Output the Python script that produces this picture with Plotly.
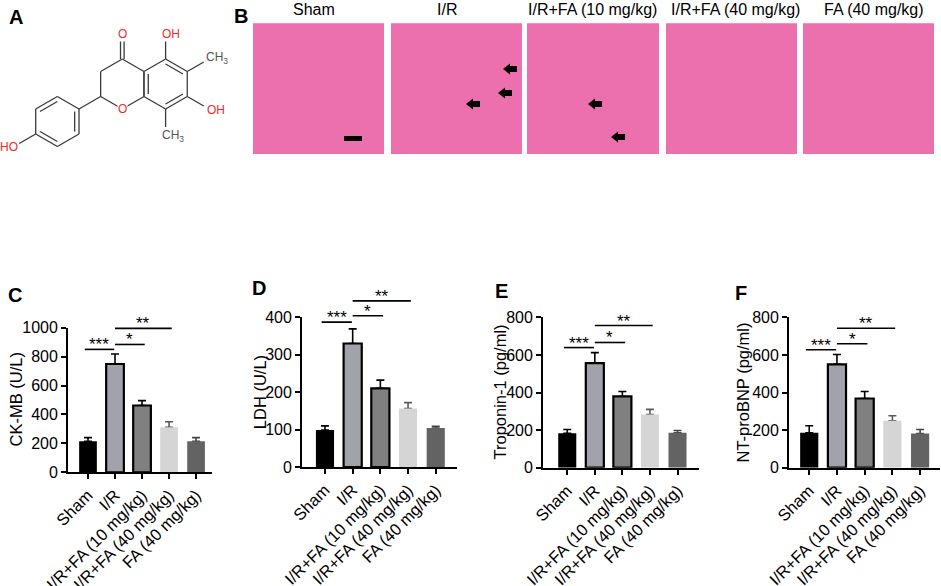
import math
import plotly.graph_objects as go

W, H = 941, 586
FONT = "Liberation Sans, Arial, sans-serif"

# ---- data ----------------------------------------------------------------
groups = ["Sham", "I/R", "I/R+FA (10 mg/kg)", "I/R+FA (40 mg/kg)", "FA (40 mg/kg)"]

ckmb_mean = [214, 749, 462, 312, 214]
ckmb_err = [26, 69, 34, 38, 26]
ldh_mean = [99, 330, 210, 156, 104]
ldh_err = [11, 39, 22, 16, 5]
trop_mean = [183, 556, 379, 283, 186]
trop_err = [20, 56, 26, 27, 12]
ntpro_mean = [186, 550, 368, 250, 182]
ntpro_err = [37, 52, 37, 26, 21]

# significance brackets (same comparisons in every panel)
sig_labels = ["***", "*", "**"]
sig_from = [-0.12, 1.0, 1.0]
sig_to = [0.97, 2.1, 3.1]
ckmb_sig_y = [850, 884, 995]
ldh_sig_y = [387, 404, 444]
trop_sig_y = [639, 666, 756]
ntpro_sig_y = [627, 659, 742]

he_titles = ["Sham", "I/R", "I/R+FA (10 mg/kg)", "I/R+FA (40 mg/kg)", "FA (40 mg/kg)"]

# ---- styling ---------------------------------------------------------------
bar_fill = ["#000000", "#a2a2ab", "#808080", "#d5d5d5", "#636363"]
bar_line = [0, 2.2, 2.2, 0, 0]
err_color = ["#000000", "#000000", "#000000", "#5a5a5a", "#444444"]
BW = 0.655


def px(x):
    return x / W


def py(y):
    return 1 - y / H


panels = [
    dict(label="C", title="CK-MB (U/L)", mean=ckmb_mean, err=ckmb_err, sig=ckmb_sig_y,
         ymax=1000, dtick=200, x0=68, x1=212, y0=472.3, y1=327.7, xr=[-0.74, 4.59],
         lab=(14.5, 295), tx=15.5),
    dict(label="D", title="LDH (U/L)", mean=ldh_mean, err=ldh_err, sig=ldh_sig_y,
         ymax=400, dtick=100, x0=302, x1=456.5, y0=467, y1=317.3, xr=[-0.83, 4.75],
         lab=(258.5, 288), tx=260),
    dict(label="E", title="Troponin-1 (pg/ml)", mean=trop_mean, err=trop_err, sig=trop_sig_y,
         ymax=800, dtick=200, x0=543, x1=699, y0=467.7, y1=317.3, xr=[-0.88, 4.78],
         lab=(501, 291), tx=499),
    dict(label="F", title="NT-proBNP (pg/ml)", mean=ntpro_mean, err=ntpro_err, sig=ntpro_sig_y,
         ymax=800, dtick=200, x0=789, x1=939.5, y0=467.7, y1=317.3, xr=[-0.73, 4.70],
         lab=(741, 293), tx=742),
]

fig = go.Figure()
shapes = []
annotations = []
layout_axes = {}

for i, p in enumerate(panels):
    s = "" if i == 0 else str(i + 1)
    for g, m, e, fc, lw, ec in zip(groups, p["mean"], p["err"], bar_fill, bar_line, err_color):
        # error bar first, then the bar on top so only the upper whisker shows
        fig.add_trace(go.Bar(
            x=[g], y=[m], width=BW, xaxis="x" + s, yaxis="y" + s,
            marker=dict(color="rgba(0,0,0,0)", line=dict(width=0)),
            error_y=dict(type="data", array=[e], arrayminus=[0], symmetric=False,
                         color=ec, thickness=1.6, width=4),
            showlegend=False, hoverinfo="skip"))
        fig.add_trace(go.Bar(
            x=[g], y=[m], width=BW, xaxis="x" + s, yaxis="y" + s,
            marker=dict(color=fc, line=dict(color="black", width=lw)),
            showlegend=False, hoverinfo="skip"))

    for lab, a, b, v in zip(sig_labels, sig_from, sig_to, p["sig"]):
        shapes.append(dict(type="line", xref="x" + s, yref="y" + s + " domain",
                           x0=a, x1=b, y0=v / p["ymax"], y1=v / p["ymax"],
                           line=dict(color="black", width=1.6)))
        annotations.append(dict(text=lab, xref="x" + s, yref="y" + s + " domain",
                                x=(a + b) / 2, y=v / p["ymax"], xanchor="center",
                                yanchor="bottom", yshift=-7, showarrow=False,
                                font=dict(size=17, color="black", family=FONT)))

    annotations.append(dict(text=p["title"], xref="paper", yref="paper",
                            x=px(p["tx"]), y=py((p["y0"] + p["y1"]) / 2), textangle=-90,
                            xanchor="center", yanchor="middle", showarrow=False,
                            font=dict(size=16.5, color="black", family=FONT)))
    annotations.append(dict(text="<b>%s</b>" % p["label"], xref="paper", yref="paper",
                            x=px(p["lab"][0]), y=py(p["lab"][1]), xanchor="center",
                            yanchor="middle", showarrow=False,
                            font=dict(size=20, color="black", family=FONT)))

    axstyle = dict(showline=True, linecolor="black", linewidth=1.8, ticks="outside",
                   ticklen=5, tickwidth=1.6, tickcolor="black", showgrid=False,
                   zeroline=False, fixedrange=True, automargin=False)
    layout_axes["xaxis" + s] = dict(
        axstyle, domain=[px(p["x0"]), px(p["x1"])], range=p["xr"], type="category",
        categoryorder="array", categoryarray=groups, tickangle=-45,
        tickfont=dict(size=16.5, color="black", family=FONT), anchor="y" + s)
    layout_axes["yaxis" + s] = dict(
        axstyle, domain=[py(p["y0"]), py(p["y1"])], range=[0, p["ymax"]],
        tick0=0, dtick=p["dtick"],
        tickfont=dict(size=16, color="black", family=FONT), anchor="x" + s)

# ---- panel B: H&E micrographs (placeholders) --------------------------------
he_x = [(253, 384), (391, 522), (527, 659), (666, 797), (803, 934)]
he_title_x = [313.7, 446.7, 592, 735, 873.7]
for (a, b), t, tx in zip(he_x, he_titles, he_title_x):
    shapes.append(dict(type="rect", xref="paper", yref="paper", x0=px(a), x1=px(b),
                       y0=py(154), y1=py(23.3), fillcolor="#ec6fae", line=dict(width=0),
                       layer="below"))
    annotations.append(dict(text=t, xref="paper", yref="paper", x=px(tx), y=py(9),
                            xanchor="center", yanchor="middle", showarrow=False,
                            font=dict(size=16, color="black", family=FONT)))

# scale bar
shapes.append(dict(type="rect", xref="paper", yref="paper", x0=px(344), x1=px(362),
                   y0=py(141), y1=py(136), fillcolor="black", line=dict(width=0)))

# black arrows pointing left (tip x, tip y)
arrow_tips = [(503, 69), (498, 93), (466, 104), (588, 104), (611, 137)]
for tx, ty in arrow_tips:
    pts = [(tx, ty), (tx + 7, ty - 5.5), (tx + 7, ty - 3), (tx + 14, ty - 3),
           (tx + 14, ty + 3), (tx + 7, ty + 3), (tx + 7, ty + 5.5)]
    path = "M " + " L ".join("%.5f,%.5f" % (px(x), py(y)) for x, y in pts) + " Z"
    shapes.append(dict(type="path", xref="paper", yref="paper", path=path,
                       fillcolor="black", line=dict(width=0)))

# ---- panel A: chemical structure --------------------------------------------
BOND = "#3a3a3a"
RED = "#f02a2a"
R = 25


def hexv(cx, cy):
    return [(cx + R * math.cos(math.radians(a)), cy - R * math.sin(math.radians(a)))
            for a in (90, 30, -30, -90, -150, 150)]


def bond(p, q, w=1.3):
    shapes.append(dict(type="line", xref="paper", yref="paper",
                       x0=px(p[0]), y0=py(p[1]), x1=px(q[0]), y1=py(q[1]),
                       line=dict(color=BOND, width=w)))


def ring(c, doubles):
    v = hexv(*c)
    for k in range(6):
        bond(v[k], v[(k + 1) % 6])
    for k in doubles:
        p, q = v[k], v[(k + 1) % 6]
        f = 0.2
        bond((p[0] + (c[0] - p[0]) * f, p[1] + (c[1] - p[1]) * f),
             (q[0] + (c[0] - q[0]) * f, q[1] + (c[1] - q[1]) * f))
    return v


pyr_c = (122.3, 84)
ringA_c = (pyr_c[0] + 2 * R * math.cos(math.radians(30)), 84)
pyr = hexv(*pyr_c)
ph_c = (pyr[4][0] - 2 * R * math.cos(math.radians(30)), pyr[4][1] + R)

ring(pyr_c, [])
va = ring(ringA_c, [0, 2, 4])
vp = ring(ph_c, [1, 3, 5])
bond(pyr[4], vp[1])

# C=O
c4 = pyr[0]
bond((c4[0] - 1.8, c4[1]), (c4[0] - 1.8, c4[1] - 19))
bond((c4[0] + 1.8, c4[1]), (c4[0] + 1.8, c4[1] - 19))
# substituents
bond(va[0], (va[0][0], va[0][1] - 19))
bond(va[1], (va[1][0] + 16.5, va[1][1] - 9.5))
bond(va[2], (va[2][0] + 16.5, va[2][1] + 9.5))
bond(va[3], (va[3][0], va[3][1] + 18))
bond(vp[4], (vp[4][0] - 16.5, vp[4][1] + 9.5))

atom_font = dict(size=12, family=FONT)
atoms = [
    ("O", c4[0], 33.5, "center", RED),
    ("O", pyr[3][0], pyr[3][1], "center", RED),
    ("OH", va[0][0] - 4.6, 33.5, "left", RED),
    ("CH<sub>3</sub>", 205, 58.5, "left", "#555555"),
    ("OH", 205.5, 110, "left", RED),
    ("CH<sub>3</sub>", va[3][0] - 4.3, 135.5, "left", "#555555"),
    ("HO", 18.5, 147, "right", RED),
]
for t, x, y, anc, col in atoms:
    annotations.append(dict(text=t, xref="paper", yref="paper", x=px(x), y=py(y),
                            xanchor=anc, yanchor="middle", showarrow=False,
                            bgcolor="white", borderpad=0,
                            font=dict(atom_font, color=col)))

for lab, (x, y) in (("A", (16, 16.5)), ("B", (241, 16))):
    annotations.append(dict(text="<b>%s</b>" % lab, xref="paper", yref="paper",
                            x=px(x), y=py(y), xanchor="center", yanchor="middle",
                            showarrow=False, font=dict(size=20, color="black", family=FONT)))

fig.update_layout(
    width=W, height=H, margin=dict(l=0, r=0, t=0, b=0),
    paper_bgcolor="white", plot_bgcolor="white", barmode="overlay",
    font=dict(family=FONT, color="black"), showlegend=False,
    shapes=shapes, annotations=annotations, **layout_axes)

# the page body has a default 8px margin; drop it so the figure sits at the corner
fig.write_html("out.html", config={"displayModeBar": False},
               post_script="document.body.style.margin='0px';")
